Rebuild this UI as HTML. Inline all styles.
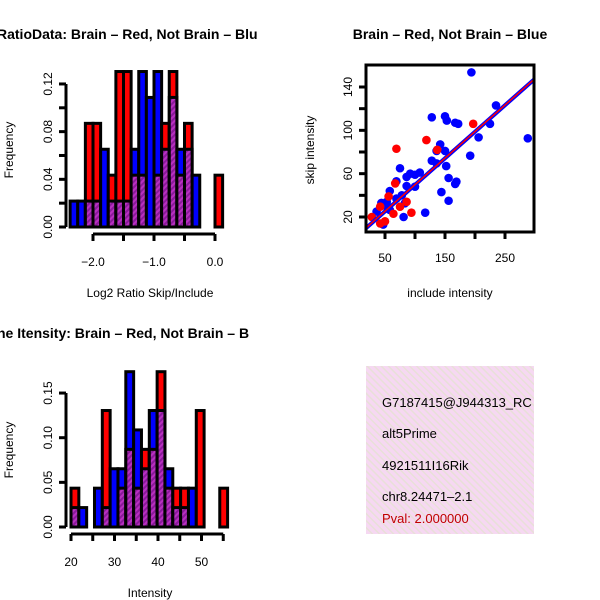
<!DOCTYPE html>
<html><head><meta charset="utf-8"><style>
body{margin:0;background:#fff}
svg{display:block;font-family:"Liberation Sans",sans-serif}
</style></head><body>
<svg id="c" width="600" height="600" viewBox="0 0 600 600">
<defs>
<pattern id="hatch" width="4" height="4" patternUnits="userSpaceOnUse" patternTransform="rotate(45)">
<rect width="4" height="4" fill="#8a1a9a"/><rect width="2" height="4" fill="#b830c0"/></pattern>
<pattern id="pink" width="5" height="5" patternUnits="userSpaceOnUse" patternTransform="rotate(-45)">
<rect width="5" height="5" fill="#f6d8f2"/><rect width="1.5" height="5" fill="#e8e0d8"/></pattern>
<clipPath id="scClip"><rect x="366" y="65" width="168" height="167"/></clipPath>
</defs>
<g id="g1"></g>
<g id="g2"></g>
<g id="g3"></g>
<g>
<rect x="366" y="366" width="168" height="168" fill="url(#pink)"/>
<svg x="366" y="366" width="168" height="168" overflow="hidden">
<g font-size="13" fill="#000">
<text x="16" y="41">G7187415@J944313_RC</text>
<text x="16" y="72">alt5Prime</text>
<text x="16" y="104">4921511I16Rik</text>
<text x="16" y="135">chr8.24471–2.1</text>
<text x="16" y="157" fill="#c00000">Pval: 2.000000</text>
</g></svg>
</g>
</svg>
<script>
// Ratio histogram data (counts per bin, 1 count = 1/46 density)
const ratioBinStart = -2.375;
const ratioBinWidth = 0.125;
const ratioRed  = [0,0,4,4,0,2,6,6,2,2,0,2,4,6,2,4,0,0,0,2];
const ratioBlue = [1,1,1,1,3,1,1,1,3,6,5,6,3,5,3,3,2,0,0,0];
const ratioYTicks = [0,0.02,0.04,0.06,0.08,0.10,0.12];
const ratioYLabels = ["0.00","","0.04","","0.08","","0.12"];
const ratioXTicks = [-2.0,-1.5,-1.0,-0.5,0.0];
const ratioXLabels = ["−2.0","","−1.0","","0.0"];
// Intensity histogram data
const intBinStart = 20;
const intBinWidth = 1.8;
const intRed  = [2,0,0,0,6,0,2,4,2,4,4,8,2,2,2,0,6,0,0,2];
const intBlue = [1,1,0,2,1,3,3,8,5,3,6,6,3,1,1,2,0,0,0,0];
const intYTicks = [0,0.05,0.10,0.15];
const intYLabels = ["0.00","0.05","0.10","0.15"];
const intXTicks = [20,25,30,35,40,45,50,55];
const intXLabels = ["20","","30","","40","","50",""];
const densUnit = 1/46;
// Scatter data
const blueX = [194,235,128,150,153,167,172,225,206,288,142,136,150,192,128,152,75,92,108,100,86,69,156,169,167,100,86,58,144,156,78,69,53,44,83,36,58,117,81,47,136,53];
const blueY = [153.5,123,112,113,109,107,106,106,93.5,92.6,87,81,81,76.6,72,67,65,60,61,59,57,53,56,52.6,50.5,48,48.6,44,43,35,40,37,34,33,32.6,25,26.5,24,20,13,69.5,29.5];
const redX = [197,119,69,137,67,56,86,42,64,94,28,42,50,75];
const redY = [106,91,83,82,51,39,34,29.5,23,24,20,14,16,29.5];
const fitBlue = [0.7,0.49];
const fitRed = [0.9,0.49];
const scXTicks = [50,100,150,200,250];
const scXLabels = ["50","","150","","250"];
const scYTicks = [20,40,60,80,100,120,140];
const scYLabels = ["20","","60","","100","","140"];

const NS="http://www.w3.org/2000/svg";
function mk(parent,tag,attrs,text){const e=document.createElementNS(NS,tag);for(const k in attrs)e.setAttribute(k,attrs[k]);if(text!==undefined)e.textContent=text;parent.appendChild(e);return e;}

function hist(g,cfg){
  const {start,width,red,blue,xs,ys,yTicks,yLabels,xTicks,xLabels,axisY,yAxisX,xLabelY,prefix}=cfg;
  for(let i=0;i<red.length;i++){
    const x0=xs(start+i*width), x1=xs(start+(i+1)*width);
    const r=red[i]*densUnit, b=blue[i]*densUnit;
    const hi=Math.max(r,b), lo=Math.min(r,b);
    if(hi>0){
      const bar=mk(g,'rect',{x:x0,y:ys(hi),width:x1-x0,height:ys(0)-ys(hi),fill:r>=b?'#ff0000':'#0000ff',stroke:'#000','stroke-width':3});
      
      
    }
    if(lo>0){
      const ov=mk(g,'rect',{x:x0,y:ys(lo),width:x1-x0,height:ys(0)-ys(lo),fill:'url(#hatch)',stroke:'#000','stroke-width':3});
      
      
    }
  }
  const ya=mk(g,'line',{x1:yAxisX,x2:yAxisX,y1:ys(yTicks[0]),y2:ys(yTicks[yTicks.length-1]),stroke:'#000','stroke-width':3});
  
  
  yTicks.forEach((t,i)=>{
    mk(g,'line',{x1:yAxisX-7,x2:yAxisX,y1:ys(t),y2:ys(t),stroke:'#000','stroke-width':3});
    if(yLabels[i]){const tl=mk(g,'text',{x:0,y:0,transform:`translate(${yAxisX-14},${ys(t)}) rotate(-90)`,'text-anchor':'middle','font-size':12},yLabels[i]);
      
      }
  });
  const xa=mk(g,'line',{x1:xs(xTicks[0]),x2:xs(xTicks[xTicks.length-1]),y1:axisY,y2:axisY,stroke:'#000','stroke-width':3});
  
  
  xTicks.forEach((t,i)=>{
    mk(g,'line',{x1:xs(t),x2:xs(t),y1:axisY,y2:axisY+7,stroke:'#000','stroke-width':3});
    if(xLabels[i]){const tl=mk(g,'text',{x:xs(t),y:xLabelY,'text-anchor':'middle','font-size':12},xLabels[i]);
      
      }
  });
}

const g1=document.getElementById('g1');
hist(g1,{start:ratioBinStart,width:ratioBinWidth,red:ratioRed,blue:ratioBlue,
  xs:v=>154+(v+1)*61, ys:v=>227-v*1192, yTicks:ratioYTicks,yLabels:ratioYLabels,
  xTicks:ratioXTicks,xLabels:ratioXLabels,axisY:234,yAxisX:66,xLabelY:266,prefix:'ratio'});
let t;
t=mk(g1,'text',{x:-3,y:39,'font-size':14,'font-weight':'bold'},'RatioData: Brain – Red, Not Brain – Blu');


t=mk(g1,'text',{x:0,y:0,transform:'translate(13,150) rotate(-90)','text-anchor':'middle','font-size':12},'Frequency');


t=mk(g1,'text',{x:150,y:297,'text-anchor':'middle','font-size':12},'Log2 Ratio Skip/Include');



const g3=document.getElementById('g3');
hist(g3,{start:intBinStart,width:intBinWidth,red:intRed,blue:intBlue,
  xs:v=>71+(v-20)*4.35, ys:v=>527-v*893, yTicks:intYTicks,yLabels:intYLabels,
  xTicks:intXTicks,xLabels:intXLabels,axisY:534,yAxisX:66,xLabelY:566,prefix:'intensity'});
t=mk(g3,'text',{x:-3,y:338,'font-size':14,'font-weight':'bold'},'ne Itensity: Brain – Red, Not Brain – B');


t=mk(g3,'text',{x:0,y:0,transform:'translate(13,450) rotate(-90)','text-anchor':'middle','font-size':12},'Frequency');


t=mk(g3,'text',{x:150,y:597,'text-anchor':'middle','font-size':12},'Intensity');



const g2=document.getElementById('g2');
const sx=v=>385+(v-50)*0.6, sy=v=>217-(v-20)*1.0833;
const pts=mk(g2,'g',{'clip-path':'url(#scClip)'});
blueX.forEach((x,i)=>{const c=mk(pts,'circle',{cx:sx(x),cy:sy(blueY[i]),r:4.3,fill:'#0000ff'});
  
  });
redX.forEach((x,i)=>{const c=mk(pts,'circle',{cx:sx(x),cy:sy(redY[i]),r:4.3,fill:'#ff0000'});
  
  });
let l=mk(pts,'line',{x1:sx(0),y1:sy(fitBlue[0]),x2:sx(320),y2:sy(fitBlue[0]+fitBlue[1]*320),stroke:'#0000ff','stroke-width':4});


l=mk(pts,'line',{x1:sx(0),y1:sy(fitRed[0]),x2:sx(320),y2:sy(fitRed[0]+fitRed[1]*320),stroke:'#ff0000','stroke-width':1.5});


const box=mk(g2,'rect',{x:366,y:65,width:168,height:167,fill:'none',stroke:'#000','stroke-width':3});


scXTicks.forEach((v,i)=>{mk(g2,'line',{x1:sx(v),x2:sx(v),y1:232,y2:239,stroke:'#000','stroke-width':3});
  if(scXLabels[i]){const tl=mk(g2,'text',{x:sx(v),y:262,'text-anchor':'middle','font-size':12},scXLabels[i]);
  
  }});
scYTicks.forEach((v,i)=>{mk(g2,'line',{x1:359,x2:366,y1:sy(v),y2:sy(v),stroke:'#000','stroke-width':3});
  if(scYLabels[i]){const tl=mk(g2,'text',{x:0,y:0,transform:`translate(352,${sy(v)}) rotate(-90)`,'text-anchor':'middle','font-size':12},scYLabels[i]);
  
  }});
t=mk(g2,'text',{x:450,y:39,'text-anchor':'middle','font-size':14,'font-weight':'bold'},'Brain – Red, Not Brain – Blue');


t=mk(g2,'text',{x:0,y:0,transform:'translate(314,150) rotate(-90)','text-anchor':'middle','font-size':12},'skip intensity');


t=mk(g2,'text',{x:450,y:297,'text-anchor':'middle','font-size':12},'include intensity');


</script>
</body></html>
